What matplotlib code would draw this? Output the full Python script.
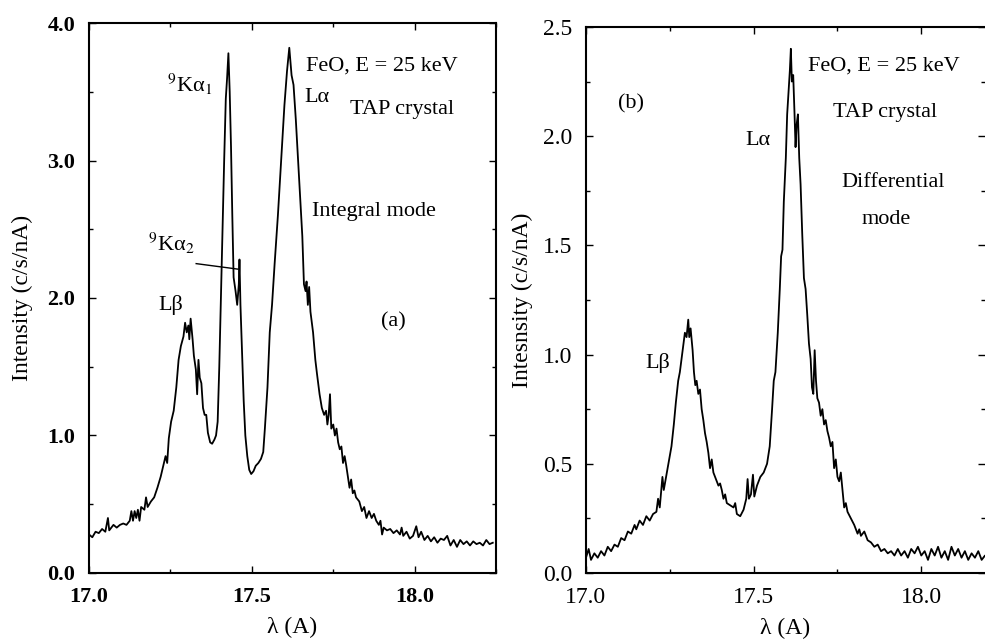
import matplotlib
matplotlib.use("Agg")
import matplotlib.pyplot as plt
from matplotlib.ticker import MultipleLocator, FormatStrFormatter

plt.rcParams['font.family'] = ['Liberation Serif', 'DejaVu Serif']
plt.rcParams['mathtext.fontset'] = 'stix'

# (a) integral mode spectrum
wl_a = [17.000, 17.010, 17.020, 17.030, 17.040, 17.050, 17.058, 17.062, 17.075, 17.085,
        17.095, 17.105, 17.115, 17.125, 17.130, 17.135, 17.140, 17.145, 17.150, 17.155,
        17.160, 17.170, 17.175, 17.180, 17.190, 17.200, 17.210, 17.220, 17.228, 17.235,
        17.240, 17.245, 17.252, 17.260, 17.268, 17.275, 17.282, 17.290, 17.295, 17.300,
        17.305, 17.308, 17.312, 17.318, 17.322, 17.328, 17.332, 17.336, 17.340, 17.345,
        17.350, 17.355, 17.360, 17.365, 17.372, 17.378, 17.385, 17.390, 17.395, 17.400,
        17.405, 17.410, 17.415, 17.420, 17.424, 17.428, 17.432, 17.436, 17.440, 17.444,
        17.450, 17.455, 17.460, 17.462, 17.465, 17.470, 17.475, 17.480, 17.486, 17.492,
        17.498, 17.505, 17.512, 17.520, 17.528, 17.535, 17.540, 17.548, 17.555, 17.562,
        17.570, 17.580, 17.590, 17.600, 17.608, 17.615, 17.622, 17.628, 17.635, 17.642,
        17.650, 17.655, 17.660, 17.665, 17.668, 17.672, 17.676, 17.680, 17.688, 17.695,
        17.700, 17.708, 17.715, 17.722, 17.728, 17.732, 17.736, 17.740, 17.744, 17.750,
        17.755, 17.760, 17.765, 17.770, 17.775, 17.780, 17.785, 17.790, 17.795, 17.800,
        17.805, 17.810, 17.815, 17.820, 17.830, 17.838, 17.845, 17.852, 17.860, 17.868,
        17.875, 17.882, 17.890, 17.895, 17.900, 17.905, 17.915, 17.925, 17.935, 17.945,
        17.955, 17.960, 17.965, 17.975, 17.985, 17.995, 18.005, 18.012, 18.020, 18.030,
        18.040, 18.050, 18.060, 18.070, 18.080, 18.090, 18.100, 18.110, 18.120, 18.130,
        18.140, 18.150, 18.160, 18.170, 18.180, 18.190, 18.200, 18.210, 18.220, 18.230,
        18.240]
int_a = [0.28, 0.26, 0.30, 0.29, 0.32, 0.30, 0.40, 0.31, 0.35, 0.33,
         0.35, 0.36, 0.35, 0.38, 0.45, 0.38, 0.45, 0.40, 0.46, 0.38,
         0.48, 0.46, 0.55, 0.48, 0.52, 0.55, 0.62, 0.70, 0.78, 0.85,
         0.80, 0.98, 1.10, 1.18, 1.35, 1.55, 1.65, 1.72, 1.82, 1.75,
         1.80, 1.70, 1.85, 1.70, 1.58, 1.48, 1.30, 1.55, 1.42, 1.38,
         1.20, 1.15, 1.15, 1.02, 0.95, 0.94, 0.97, 1.00, 1.10, 1.50,
         2.00, 2.50, 3.00, 3.45, 3.60, 3.78, 3.50, 3.10, 2.60, 2.15,
         2.05, 1.95, 2.10, 2.28, 1.95, 1.60, 1.25, 1.00, 0.85, 0.75,
         0.72, 0.74, 0.78, 0.80, 0.83, 0.88, 1.05, 1.35, 1.75, 1.95,
         2.25, 2.60, 3.00, 3.40, 3.65, 3.82, 3.62, 3.55, 3.30, 3.00,
         2.65, 2.45, 2.10, 2.05, 2.12, 1.95, 2.08, 1.90, 1.75, 1.55,
         1.45, 1.30, 1.20, 1.15, 1.18, 1.08, 1.15, 1.30, 1.05, 1.08,
         1.00, 1.05, 0.95, 0.90, 0.92, 0.80, 0.85, 0.78, 0.70, 0.62,
         0.68, 0.58, 0.60, 0.55, 0.52, 0.45, 0.48, 0.40, 0.45, 0.40,
         0.43, 0.38, 0.35, 0.38, 0.28, 0.33, 0.31, 0.32, 0.29, 0.31,
         0.28, 0.33, 0.27, 0.30, 0.25, 0.27, 0.34, 0.26, 0.30, 0.24,
         0.27, 0.23, 0.26, 0.22, 0.25, 0.24, 0.27, 0.20, 0.24, 0.19,
         0.24, 0.21, 0.23, 0.20, 0.23, 0.21, 0.22, 0.20, 0.24, 0.21,
         0.22]

# (b) differential mode spectrum
wl_b = [17.000, 17.008, 17.015, 17.025, 17.035, 17.045, 17.055, 17.065, 17.075, 17.085,
        17.095, 17.105, 17.115, 17.125, 17.135, 17.145, 17.150, 17.160, 17.170, 17.180,
        17.190, 17.200, 17.210, 17.215, 17.220, 17.228, 17.232, 17.240, 17.248, 17.255,
        17.262, 17.268, 17.275, 17.280, 17.285, 17.290, 17.295, 17.300, 17.305, 17.308,
        17.312, 17.318, 17.322, 17.326, 17.330, 17.335, 17.340, 17.345, 17.350, 17.355,
        17.360, 17.365, 17.370, 17.375, 17.380, 17.385, 17.390, 17.395, 17.400, 17.405,
        17.410, 17.415, 17.420, 17.430, 17.440, 17.445, 17.450, 17.460, 17.470, 17.478,
        17.482, 17.486, 17.492, 17.498, 17.502, 17.510, 17.520, 17.530, 17.540, 17.548,
        17.555, 17.560, 17.565, 17.572, 17.578, 17.582, 17.586, 17.590, 17.596, 17.600,
        17.604, 17.608, 17.611, 17.614, 17.618, 17.622, 17.625, 17.628, 17.632, 17.636,
        17.640, 17.645, 17.650, 17.655, 17.660, 17.665, 17.670, 17.674, 17.678, 17.682,
        17.686, 17.690, 17.695, 17.700, 17.705, 17.710, 17.715, 17.720, 17.725, 17.730,
        17.735, 17.740, 17.745, 17.750, 17.755, 17.760, 17.765, 17.770, 17.775, 17.780,
        17.790, 17.800, 17.810, 17.815, 17.820, 17.830, 17.840, 17.850, 17.860, 17.870,
        17.880, 17.890, 17.900, 17.910, 17.920, 17.930, 17.940, 17.950, 17.960, 17.970,
        17.980, 17.990, 18.000, 18.010, 18.020, 18.030, 18.040, 18.050, 18.060, 18.070,
        18.080, 18.090, 18.100, 18.110, 18.120, 18.130, 18.140, 18.150, 18.160, 18.170,
        18.180, 18.190, 18.200]
int_b = [0.07, 0.11, 0.06, 0.09, 0.07, 0.10, 0.08, 0.12, 0.10, 0.13,
         0.12, 0.16, 0.15, 0.19, 0.18, 0.22, 0.20, 0.24, 0.22, 0.26,
         0.24, 0.27, 0.28, 0.34, 0.30, 0.44, 0.38, 0.45, 0.52, 0.58,
         0.68, 0.78, 0.88, 0.92, 0.98, 1.04, 1.10, 1.08, 1.16, 1.08,
         1.12, 1.02, 0.92, 0.86, 0.88, 0.82, 0.84, 0.75, 0.70, 0.64,
         0.60, 0.55, 0.48, 0.52, 0.46, 0.44, 0.42, 0.40, 0.41, 0.38,
         0.34, 0.36, 0.32, 0.31, 0.30, 0.32, 0.27, 0.26, 0.29, 0.34,
         0.43, 0.34, 0.36, 0.45, 0.35, 0.40, 0.44, 0.46, 0.50, 0.58,
         0.75, 0.88, 0.92, 1.10, 1.30, 1.45, 1.48, 1.70, 1.90, 2.10,
         2.20, 2.30, 2.40, 2.25, 2.28, 2.10, 1.95, 2.05, 2.10, 1.90,
         1.78, 1.55, 1.35, 1.30, 1.18, 1.05, 0.98, 0.85, 0.82, 1.02,
         0.88, 0.80, 0.78, 0.72, 0.75, 0.68, 0.70, 0.65, 0.62, 0.58,
         0.60, 0.48, 0.52, 0.44, 0.42, 0.46, 0.38, 0.30, 0.32, 0.28,
         0.25, 0.22, 0.18, 0.20, 0.17, 0.19, 0.15, 0.14, 0.12, 0.13,
         0.10, 0.11, 0.09, 0.10, 0.08, 0.11, 0.08, 0.10, 0.07, 0.11,
         0.09, 0.12, 0.08, 0.10, 0.06, 0.11, 0.08, 0.12, 0.07, 0.10,
         0.06, 0.12, 0.08, 0.11, 0.07, 0.10, 0.06, 0.09, 0.07, 0.10,
         0.06, 0.08, 0.06]

fig = plt.figure(figsize=(9.85, 6.39), dpi=100)
ax1 = fig.add_axes([0.0904, 0.1033, 0.4132, 0.8607])
ax2 = fig.add_axes([0.5949, 0.1033, 0.4051, 0.8545])

ax1.plot(wl_a, int_a, color='black', lw=1.3)
ax2.plot(wl_b, int_b, color='black', lw=1.3)

ax1.set_xlim(17.0, 18.25)
ax1.set_ylim(0, 4.0)
ax2.set_xlim(17.0, 18.19)
ax2.set_ylim(0, 2.5)

ax1.yaxis.set_major_locator(MultipleLocator(1.0))
ax1.yaxis.set_minor_locator(MultipleLocator(0.5))
ax2.yaxis.set_major_locator(MultipleLocator(0.5))
ax2.yaxis.set_minor_locator(MultipleLocator(0.25))
for ax in (ax1, ax2):
    ax.xaxis.set_major_locator(MultipleLocator(0.5))
    ax.xaxis.set_minor_locator(MultipleLocator(0.25))
    ax.xaxis.set_major_formatter(FormatStrFormatter('%.1f'))
    ax.yaxis.set_major_formatter(FormatStrFormatter('%.1f'))
    ax.tick_params(which='both', direction='in', top=True, right=True, width=1.0)
    ax.tick_params(which='major', length=5, pad=10)
    ax.tick_params(which='minor', length=3)
    for sp in ax.spines.values():
        sp.set_linewidth(1.5)
ax2.spines['right'].set_visible(False)

ax1.tick_params(which='major', labelsize=16)
ax2.tick_params(which='major', labelsize=17)
plt.setp(ax1.get_xticklabels() + ax1.get_yticklabels(), fontweight='bold')

ax1.set_xlabel('λ (A)', fontsize=17, labelpad=7)
ax2.set_xlabel('λ (A)', fontsize=17, labelpad=7)
ax1.set_ylabel('Intensity (c/s/nA)', fontsize=17, labelpad=10)
ax2.set_ylabel('Intesnsity (c/s/nA)', fontsize=17, labelpad=7)

fs = 16
ax1.text(17.666, 3.69, 'FeO, E = 25 keV', fontsize=fs, va='center')
ax1.text(17.66, 3.46, 'Lα', fontsize=fs, va='center')
ax1.text(17.80, 3.37, 'TAP crystal', fontsize=fs, va='center')
ax1.text(17.686, 2.63, 'Integral mode', fontsize=fs, va='center')
ax1.text(17.936, 1.83, '(a)', fontsize=fs, va='center', ha='center')
ax1.text(17.239, 3.55, '$^{9}$Kα$_{1}$', fontsize=fs, va='center')
ax1.text(17.182, 2.40, '$^{9}$Kα$_{2}$', fontsize=fs, va='center')
ax1.plot([17.329, 17.457], [2.25, 2.21], color='black', lw=1.0)
ax1.text(17.213, 1.95, 'Lβ', fontsize=fs, va='center')

ax2.text(17.662, 2.32, 'FeO, E = 25 keV', fontsize=fs, va='center')
ax2.text(17.096, 2.15, '(b)', fontsize=fs, va='center')
ax2.text(17.737, 2.11, 'TAP crystal', fontsize=fs, va='center')
ax2.text(17.475, 1.98, 'Lα', fontsize=fs, va='center')
ax2.text(17.763, 1.79, 'Differential', fontsize=fs, va='center')
ax2.text(17.823, 1.62, 'mode', fontsize=fs, va='center')
ax2.text(17.177, 0.96, 'Lβ', fontsize=fs, va='center')

fig.savefig('out.png', dpi=100)
